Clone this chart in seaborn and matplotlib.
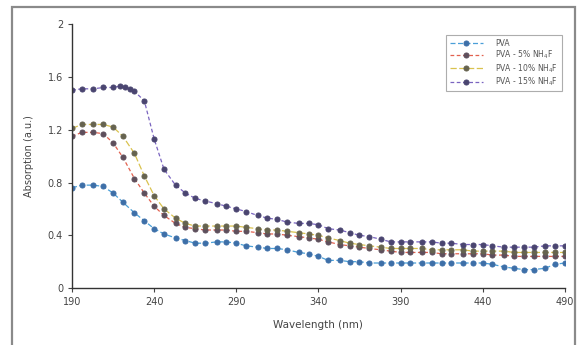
import numpy as np
import pandas as pd
import matplotlib
matplotlib.use("Agg")
import matplotlib.pyplot as plt
import seaborn as sns
from matplotlib.patches import Rectangle

# Wavelength grid (nm)
wavelength = [190, 196, 203, 209, 215, 221, 228, 234, 240, 246, 253, 259, 265, 271,
              278, 284, 290, 296, 303, 309, 315, 321, 328, 334, 340, 346, 353, 359,
              365, 371, 378, 384, 390, 396, 403, 409, 415, 421, 428, 434, 440, 446,
              453, 459, 465, 471, 478, 484, 490]

pva = [0.76, 0.78, 0.78, 0.77, 0.72, 0.65, 0.57, 0.51, 0.45, 0.41, 0.38, 0.36, 0.34, 0.34,
       0.35, 0.35, 0.34, 0.32, 0.31, 0.30, 0.30, 0.29, 0.27, 0.26, 0.24, 0.21, 0.21, 0.20,
       0.20, 0.19, 0.19, 0.19, 0.19, 0.19, 0.19, 0.19, 0.19, 0.19, 0.19, 0.19, 0.19, 0.18,
       0.16, 0.15, 0.14, 0.14, 0.15, 0.18, 0.19]

nh4f_5 = [1.15, 1.18, 1.18, 1.17, 1.10, 0.99, 0.83, 0.72, 0.62, 0.55, 0.49, 0.46, 0.45, 0.44,
          0.44, 0.44, 0.43, 0.43, 0.42, 0.41, 0.41, 0.40, 0.39, 0.38, 0.37, 0.35, 0.33, 0.32,
          0.31, 0.30, 0.29, 0.28, 0.27, 0.27, 0.27, 0.27, 0.26, 0.26, 0.26, 0.26, 0.26, 0.25,
          0.25, 0.24, 0.24, 0.24, 0.24, 0.24, 0.24]

nh4f_10 = [1.21, 1.24, 1.24, 1.24, 1.22, 1.15, 1.02, 0.85, 0.70, 0.60, 0.53, 0.49, 0.47, 0.47,
           0.47, 0.47, 0.47, 0.46, 0.45, 0.44, 0.44, 0.43, 0.42, 0.41, 0.40, 0.38, 0.36, 0.34,
           0.33, 0.32, 0.31, 0.30, 0.30, 0.30, 0.30, 0.29, 0.29, 0.29, 0.29, 0.28, 0.28, 0.28,
           0.28, 0.27, 0.27, 0.27, 0.27, 0.27, 0.27]

# The 15% sample was recorded more finely around the absorption edge
wavelength_15 = [190, 196, 203, 209, 215, 219, 222, 225, 228, 234, 240, 246, 253, 259, 265,
                 271, 278, 284, 290, 296, 303, 309, 315, 321, 328, 334, 340, 346, 353, 359,
                 365, 371, 378, 384, 390, 396, 403, 409, 415, 421, 428, 434, 440, 446, 453,
                 459, 465, 471, 478, 484, 490]
nh4f_15 = [1.50, 1.51, 1.51, 1.52, 1.52, 1.53, 1.52, 1.51, 1.49, 1.42, 1.13, 0.90, 0.78, 0.72,
           0.68, 0.66, 0.64, 0.62, 0.60, 0.58, 0.55, 0.53, 0.52, 0.50, 0.49, 0.49, 0.48, 0.45,
           0.44, 0.42, 0.40, 0.39, 0.37, 0.35, 0.35, 0.35, 0.35, 0.35, 0.34, 0.34, 0.33, 0.33,
           0.33, 0.32, 0.31, 0.31, 0.31, 0.31, 0.32, 0.32, 0.32]

labels = ["PVA", "PVA - 5% NH$_4$F", "PVA - 10% NH$_4$F", "PVA - 15% NH$_4$F"]
x_ticks = [190, 240, 290, 340, 390, 440, 490]
y_ticks = [0, 0.4, 0.8, 1.2, 1.6, 2]
y_tick_labels = ["0", "0.4", "0.8", "1.2", "1.6", "2"]

sns.set_style("ticks")
plt.rcParams["font.family"] = ["DejaVu Sans"]

fig = plt.figure(figsize=(5.81, 3.45), dpi=100)
ax = fig.add_axes([0.124, 0.165, 0.848, 0.765])

series = [
    (wavelength, pva, "#4a9fd8", "#3d6fa8", (4, 2)),
    (wavelength, nh4f_5, "#e2614f", "#5e4f5c", (3, 2)),
    (wavelength, nh4f_10, "#d9c24e", "#66634f", (5, 2)),
    (wavelength_15, nh4f_15, "#7a64c0", "#4a4570", (3, 2)),
]

for (xs, ys, lc, mc, dash), lab in zip(series, labels):
    sns.lineplot(x=xs, y=ys, ax=ax, color=lc, linewidth=0.9, dashes=False,
                 marker="o", markersize=3.6, markerfacecolor=mc,
                 markeredgecolor=mc, label=lab)
    ax.lines[-1].set_dashes(dash)

ax.set_xlim(190, 490)
ax.set_ylim(0, 2)
ax.set_xticks(x_ticks)
ax.set_yticks(y_ticks)
ax.set_yticklabels(y_tick_labels)
ax.tick_params(axis="both", labelsize=7, colors="#444444", length=3, width=0.8)
for s in ["top", "right"]:
    ax.spines[s].set_visible(False)
for s in ["left", "bottom"]:
    ax.spines[s].set_color("#333333")
    ax.spines[s].set_linewidth(1.0)

ax.set_xlabel("Wavelength (nm)", fontsize=7.5, color="#444444", labelpad=9)
ax.set_ylabel("Absorption (a.u.)", fontsize=7, color="#444444", labelpad=10)

leg = ax.legend(loc="upper right", bbox_to_anchor=(0.994, 0.958), fontsize=5.5,
                frameon=True, fancybox=False, edgecolor="#999999",
                handlelength=4.4, borderpad=0.45, labelspacing=0.12,
                handletextpad=1.6, borderaxespad=0)
leg.get_frame().set_linewidth(0.8)
for t in leg.get_texts():
    t.set_color("#555555")

# Outer frame around the whole chart
fig.patches.append(Rectangle((12 / 581, -0.02), 563 / 581, 1 - 7 / 345 + 0.02,
                             transform=fig.transFigure, fill=False,
                             edgecolor="#8a8a8a", linewidth=1.6))

fig.savefig("out.png", dpi=100, facecolor="white")
